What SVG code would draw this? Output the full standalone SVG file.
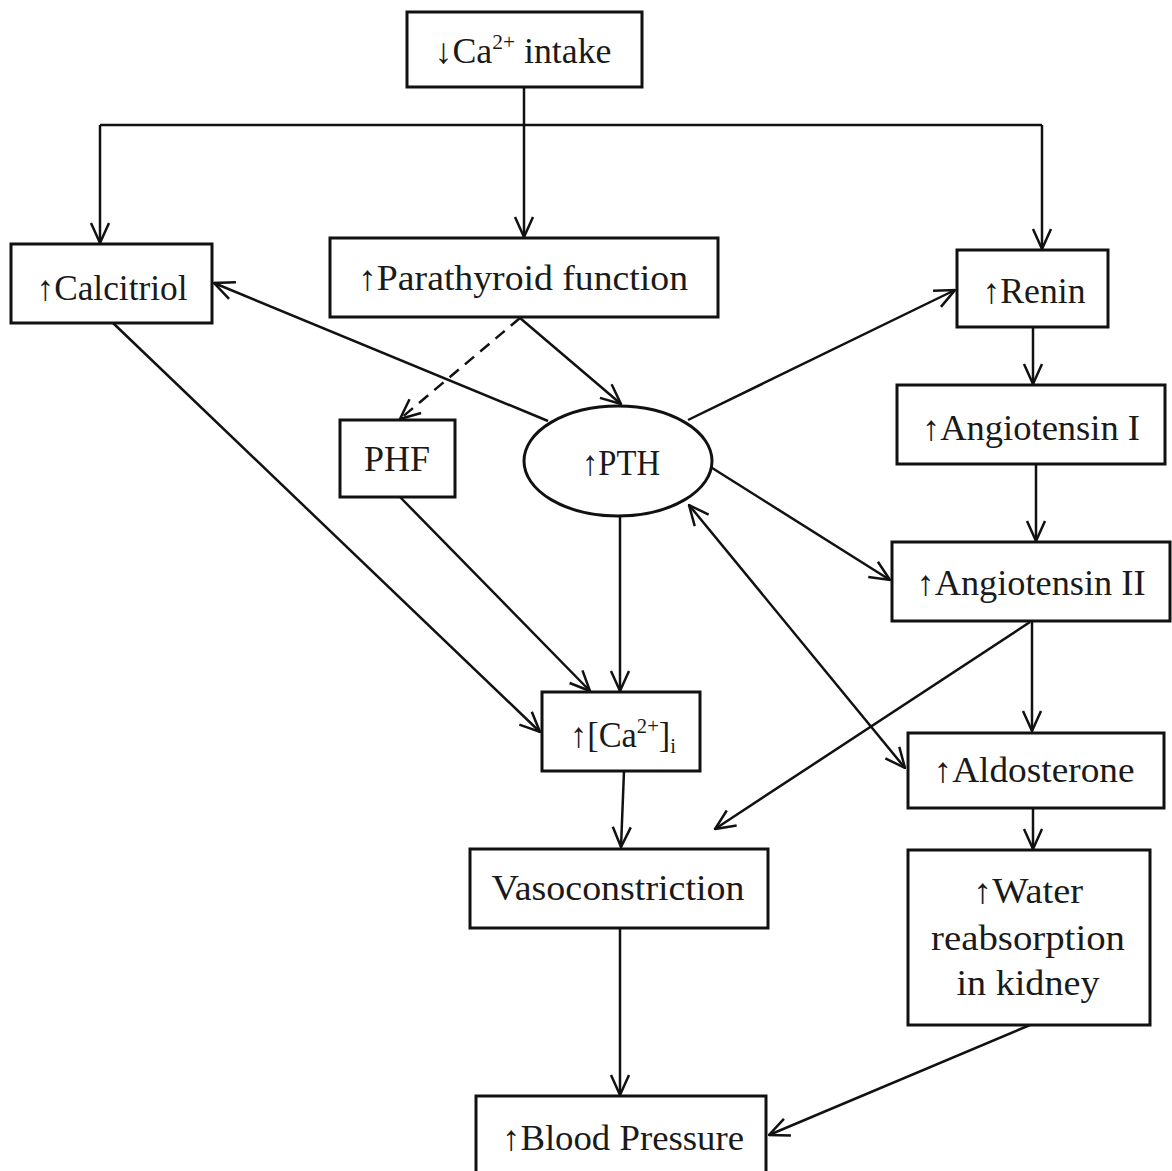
<svg xmlns="http://www.w3.org/2000/svg" width="1172" height="1171" viewBox="0 0 1172 1171">
  <style>
    .box { fill: #fff; stroke: #111; stroke-width: 3; }
    .lbl { font-family: "Liberation Serif", "DejaVu Serif", serif; font-size: 35px; fill: #1a1a1a; text-anchor: middle; }
    .sup { font-size: 21px; }
    .edge { fill: none; stroke: #111; stroke-width: 2.5; }
    .dash { stroke-dasharray: 12 8; }
  </style>
  <defs>
    <marker id="arr" viewBox="0 0 22 22" refX="21" refY="11" markerWidth="22" markerHeight="22" markerUnits="userSpaceOnUse" orient="auto-start-reverse">
      <path d="M1,2 L21,11 L1,20" fill="none" stroke="#111" stroke-width="2.5"/>
    </marker>
  </defs>
  <rect width="1172" height="1171" fill="#fff"/>

  <g id="connectors">
    <!-- intake fan-out -->
    <path class="edge" d="M524,87 V125"/>
    <path class="edge" d="M100,125 H1042"/>
    <path class="edge" d="M524,125 V237" marker-end="url(#arr)"/>
    <path class="edge" d="M100,125 V243" marker-end="url(#arr)"/>
    <path class="edge" d="M1042,125 V249" marker-end="url(#arr)"/>
    <!-- parathyroid -->
    <path class="edge" d="M520,318 L621,404" marker-end="url(#arr)"/>
    <path class="edge dash" d="M520,318 L400,419" marker-end="url(#arr)"/>
    <!-- PTH outputs -->
    <path class="edge" d="M548,421 L214,283" marker-end="url(#arr)"/>
    <path class="edge" d="M688,420 L955,290" marker-end="url(#arr)"/>
    <path class="edge" d="M709,466 L890,580" marker-end="url(#arr)"/>
    <path class="edge" d="M620,516 V691" marker-end="url(#arr)"/>
    <path class="edge" d="M905,768 L689,505" marker-start="url(#arr)" marker-end="url(#arr)"/>
    <!-- into [Ca2+]i -->
    <path class="edge" d="M113,323 L540,732" marker-end="url(#arr)"/>
    <path class="edge" d="M400,497 L590,691" marker-end="url(#arr)"/>
    <!-- renin-angiotensin chain -->
    <path class="edge" d="M1033,327 V384" marker-end="url(#arr)"/>
    <path class="edge" d="M1036,464 V541" marker-end="url(#arr)"/>
    <path class="edge" d="M1032,621 V731" marker-end="url(#arr)"/>
    <path class="edge" d="M1030,622 L715,829" marker-end="url(#arr)"/>
    <path class="edge" d="M1033,808 V849" marker-end="url(#arr)"/>
    <!-- to blood pressure -->
    <path class="edge" d="M624,771 L621,847" marker-end="url(#arr)"/>
    <path class="edge" d="M620,928 V1095" marker-end="url(#arr)"/>
    <path class="edge" d="M1030,1025 L769,1135" marker-end="url(#arr)"/>
  </g>

  <g id="ca-intake">
    <rect class="box" x="407" y="12" width="235" height="75"/>
    <text class="lbl" x="523" y="63" textLength="177" lengthAdjust="spacingAndGlyphs">↓Ca<tspan class="sup" dy="-14">2+</tspan><tspan dy="14"> intake</tspan></text>
  </g>
  <g id="calcitriol">
    <rect class="box" x="11" y="244" width="201" height="79"/>
    <text class="lbl" x="112" y="300" textLength="151" lengthAdjust="spacingAndGlyphs">↑Calcitriol</text>
  </g>
  <g id="parathyroid">
    <rect class="box" x="330" y="238" width="388" height="79"/>
    <text class="lbl" x="523" y="290" textLength="330" lengthAdjust="spacingAndGlyphs">↑Parathyroid function</text>
  </g>
  <g id="renin">
    <rect class="box" x="957" y="250" width="151" height="77"/>
    <text class="lbl" x="1034" y="303" textLength="103" lengthAdjust="spacingAndGlyphs">↑Renin</text>
  </g>
  <g id="angiotensin-1">
    <rect class="box" x="897" y="385" width="268" height="79"/>
    <text class="lbl" x="1031" y="440" textLength="218" lengthAdjust="spacingAndGlyphs">↑Angiotensin I</text>
  </g>
  <g id="angiotensin-2">
    <rect class="box" x="892" y="542" width="278" height="79"/>
    <text class="lbl" x="1031" y="595" textLength="229" lengthAdjust="spacingAndGlyphs">↑Angiotensin II</text>
  </g>
  <g id="phf">
    <rect class="box" x="340" y="420" width="115" height="77"/>
    <text class="lbl" x="397" y="471" textLength="66" lengthAdjust="spacingAndGlyphs">PHF</text>
  </g>
  <g id="pth">
    <ellipse class="box" cx="618" cy="461" rx="94" ry="55"/>
    <text class="lbl" x="621" y="475" textLength="78" lengthAdjust="spacingAndGlyphs">↑PTH</text>
  </g>
  <g id="ca-intracellular">
    <rect class="box" x="542" y="692" width="158" height="79"/>
    <text class="lbl" x="623" y="747" textLength="106" lengthAdjust="spacingAndGlyphs">↑[Ca<tspan class="sup" dy="-14">2+</tspan><tspan dy="14">]</tspan><tspan class="sup" dy="6">i</tspan></text>
  </g>
  <g id="aldosterone">
    <rect class="box" x="908" y="733" width="256" height="75"/>
    <text class="lbl" x="1034" y="782" textLength="201" lengthAdjust="spacingAndGlyphs">↑Aldosterone</text>
  </g>
  <g id="water-reabsorption">
    <rect class="box" x="908" y="850" width="242" height="175"/>
    <text class="lbl" x="1028" y="903" textLength="110" lengthAdjust="spacingAndGlyphs">↑Water</text>
    <text class="lbl" x="1028" y="950" textLength="194" lengthAdjust="spacingAndGlyphs">reabsorption</text>
    <text class="lbl" x="1028" y="995" textLength="143" lengthAdjust="spacingAndGlyphs">in kidney</text>
  </g>
  <g id="vasoconstriction">
    <rect class="box" x="470" y="849" width="298" height="79"/>
    <text class="lbl" x="618" y="900" textLength="253" lengthAdjust="spacingAndGlyphs">Vasoconstriction</text>
  </g>
  <g id="blood-pressure">
    <rect class="box" x="476" y="1096" width="290" height="100"/>
    <text class="lbl" x="623" y="1150" textLength="242" lengthAdjust="spacingAndGlyphs">↑Blood Pressure</text>
  </g>
</svg>
